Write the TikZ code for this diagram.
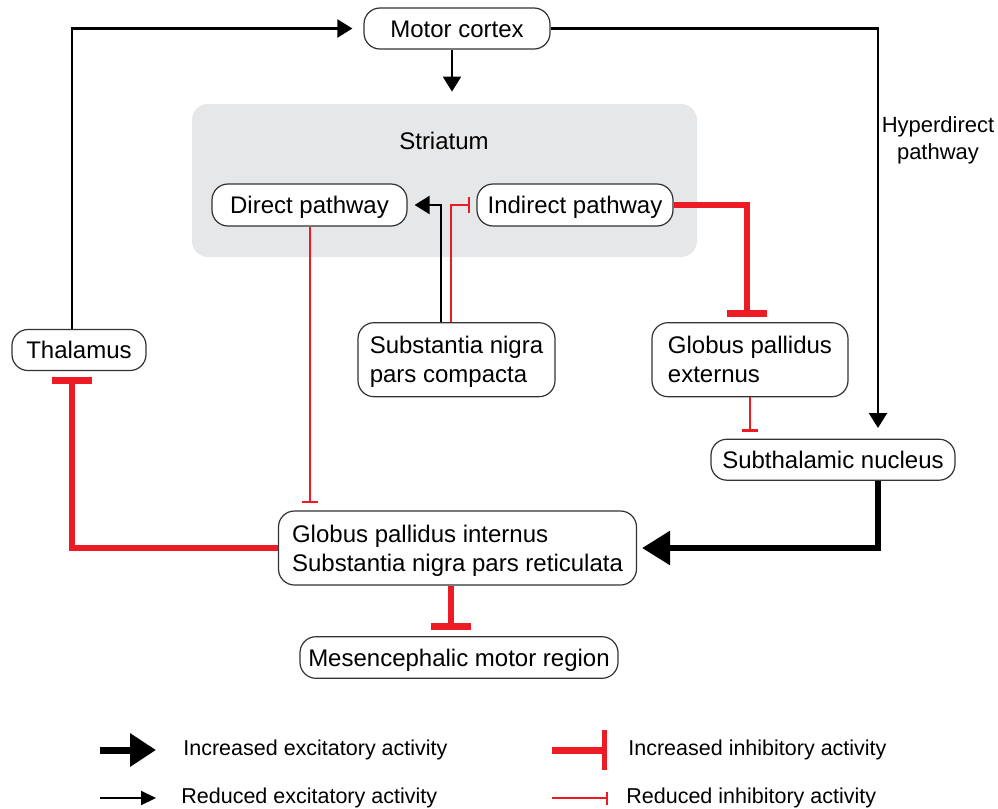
\documentclass[tikz,border=0pt]{standalone}
\usepackage{fontspec}
\setmainfont{Liberation Sans}
\usetikzlibrary{arrows.meta}
\definecolor{inhred}{HTML}{ED1C24}
\definecolor{strgray}{HTML}{E6E7E8}
\definecolor{boxline}{HTML}{333333}
\begin{document}
\begin{tikzpicture}[x=0.5pt,y=-0.5pt,
  region/.style={draw=boxline, line width=0.6pt, rounded corners=8pt, fill=white, align=left,
    font=\fontsize{12}{14.5}\selectfont, inner sep=0pt, text depth=0pt},
  oneline/.style={text height=8.6pt},
  exthin/.style={draw=black, line width=1.1pt, -{Triangle[length=7.5pt,width=9pt]}},
  exthick/.style={draw=black, line width=3pt, -{Triangle[length=14pt,width=16.5pt]}},
  inthin/.style={draw=inhred, line width=0.9pt, -{Rectangle[length=1.3pt,width=8pt]}},
  inthick/.style={draw=inhred, line width=3pt, -{Rectangle[length=3.5pt,width=20pt]}},
  legtext/.style={anchor=west, font=\fontsize{10.75}{12}\selectfont, inner sep=0pt}]
\useasboundingbox (0,0) rectangle (998,809);

% striatum background
\node[fill=strgray, rounded corners=8pt, minimum width=252.5pt, minimum height=76.5pt, inner sep=0pt] (stri) at (444.5,180.5) {};
\node[font=\fontsize{12}{14.5}\selectfont, inner sep=0pt, text height=8.6pt, text depth=0pt] (strilab) at (444,141) {Striatum};

% regions
\node[region, oneline, minimum width=93pt, minimum height=20.5pt] (mc) at (457,28.5) {Motor cortex};
\node[region, oneline, minimum width=97.5pt, minimum height=21pt] (direct) at (309.5,205) {Direct pathway};
\node[region, oneline, minimum width=98pt, minimum height=21pt] (indirect) at (575,205) {Indirect pathway};
\node[region, minimum width=98.5pt, minimum height=37pt] (snc) at (456.5,359.7) {Substantia nigra\\pars compacta};
\node[region, minimum width=98pt, minimum height=37pt] (gpe) at (750,359.7) {Globus pallidus\\externus};
\node[region, oneline, minimum width=122pt, minimum height=20.5pt] (stn) at (833,459.7) {Subthalamic nucleus};
\node[region, minimum width=179pt, minimum height=37pt] (gpi) at (457.5,548) {Globus pallidus internus\\Substantia nigra pars reticulata};
\node[region, oneline, minimum width=159pt, minimum height=20.8pt] (mmr) at (459,657.5) {Mesencephalic motor region};
\node[region, oneline, minimum width=67pt, minimum height=20.5pt] (thal) at (79,350) {Thalamus};
\node[align=center, font=\fontsize{11}{13.5}\selectfont, inner sep=0pt] (hyper) at (938,140) {Hyperdirect\\pathway};

% helper columns
\coordinate (x72) at (72,0);
\coordinate (x310) at (310,0);
\coordinate (x441) at (441,0);
\coordinate (x451) at (451,0);
\coordinate (x452) at (452,0);
\coordinate (x747) at (747,0);
\coordinate (x750) at (750,0);
\coordinate (x878) at (878,0);

% connectors
\draw[exthin, shorten >=5.5pt] (thal.north -| x72) |- (mc.west);
\draw[exthin, shorten >=6pt] (mc.south -| x452) -- (stri.north -| x452);
\draw[exthin, shorten >=5.3pt] (mc.east) -| (stn.north -| x878);
\draw[exthin, shorten >=3.5pt] (snc.north -| x441) |- (direct.east);
\draw[inthin, shorten >=3pt] (snc.north -| x451) |- (indirect.west);
\draw[inthick, shorten >=2.8pt] (indirect.east) -| (gpe.north -| x747);
\draw[inthin, shorten >=3.5pt] (gpe.south -| x750) -- (stn.north -| x750);
\draw[exthick, shorten >=2.5pt] (stn.south -| x878) |- (gpi.east);
\draw[inthin, shorten >=3.5pt] (direct.south -| x310) -- (gpi.north -| x310);
\draw[inthick, shorten >=3pt] (gpi.west) -| (thal.south -| x72);
\draw[inthick, shorten >=3.3pt] (gpi.south -| x451) -- (mmr.north -| x451);

% legend
\coordinate (l1a) at (100,750); \coordinate (l1b) at (156,750);
\coordinate (l2a) at (100,798); \coordinate (l2b) at (156,798);
\coordinate (l3a) at (552,750); \coordinate (l3b) at (607,750);
\coordinate (l4a) at (552,798); \coordinate (l4b) at (608,798);
\draw[exthick, line width=3.5pt, -{Triangle[length=13pt,width=16pt]}] (l1a) -- (l1b);
\draw[exthin, -{Triangle[length=7.5pt,width=7pt]}] (l2a) -- (l2b);
\draw[inthick, line width=3.5pt, -{Rectangle[length=2.5pt,width=20pt]}] (l3a) -- (l3b);
\draw[inthin, line width=1pt, -{Rectangle[length=1.2pt,width=6.5pt]}] (l4a) -- (l4b);
\node[legtext] (t1) at (183,750) {Increased excitatory activity};
\node[legtext] (t2) at (181,798) {Reduced excitatory activity};
\node[legtext] (t3) at (628,750) {Increased inhibitory activity};
\node[legtext] (t4) at (626,798) {Reduced inhibitory activity};
\end{tikzpicture}
\end{document}
